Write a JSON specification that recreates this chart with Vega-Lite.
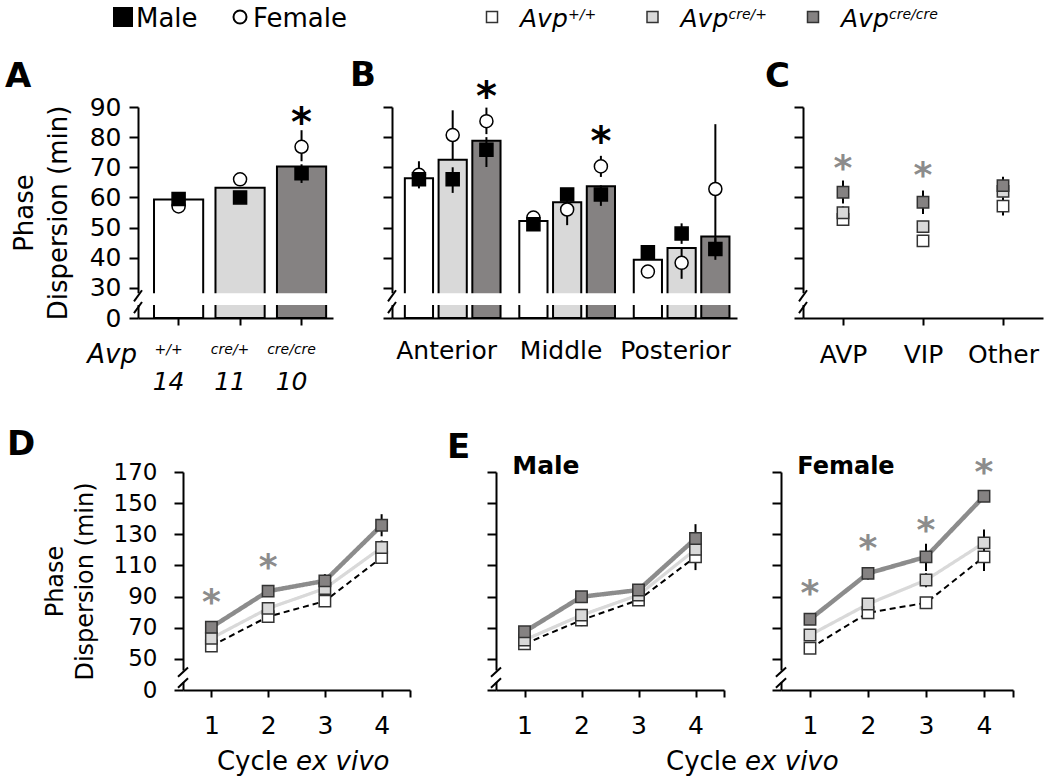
{
"$schema": "https://vega.github.io/schema/vega-lite/v6.json",
"padding": {"left": 5, "top": 0, "right": 5, "bottom": 5},
"config": {
 "font": "DejaVu Sans",
 "view": {"stroke": null},
 "axis": {"domainColor": "black", "domainWidth": 2, "tickColor": "black", "tickWidth": 2, "labelColor": "black", "titleColor": "black", "grid": false, "labelFont": "DejaVu Sans", "titleFont": "DejaVu Sans", "titleFontWeight": "normal", "labelFontSize": 25, "titleFontSize": 26, "labelOverlap": false},
 "text": {"font": "DejaVu Sans", "color": "black"}
},
"datasets": {
 "L_sex": [{"sex": "Male"}, {"sex": "Female"}],
 "L_gen": [{"genotype": "+/+"}, {"genotype": "cre/+"}, {"genotype": "cre/cre"}],
 "A_bars": [{"genotype": "+/+", "value": 59.3}, {"genotype": "cre/+", "value": 63.2}, {"genotype": "cre/cre", "value": 70.3}],
 "A_pts": [
  {"genotype": "+/+", "sex": "Female", "value": 57, "lo": 56, "hi": 58},
  {"genotype": "cre/+", "sex": "Female", "value": 66, "lo": 65, "hi": 67},
  {"genotype": "cre/cre", "sex": "Female", "value": 76.8, "lo": 72, "hi": 82.3},
  {"genotype": "+/+", "sex": "Male", "value": 59.5, "lo": 58, "hi": 61},
  {"genotype": "cre/+", "sex": "Male", "value": 60, "lo": 58.5, "hi": 61.5},
  {"genotype": "cre/cre", "sex": "Male", "value": 68, "lo": 64.8, "hi": 71}
 ],
 "A_n": [{"genotype": "+/+", "n": "14"}, {"genotype": "cre/+", "n": "11"}, {"genotype": "cre/cre", "n": "10"}],
 "A_ast": [{"genotype": "cre/cre", "value": 86.2}],
 "B_bars": [
  {"region": "Anterior", "genotype": "+/+", "value": 66.4},
  {"region": "Anterior", "genotype": "cre/+", "value": 72.5},
  {"region": "Anterior", "genotype": "cre/cre", "value": 78.8},
  {"region": "Middle", "genotype": "+/+", "value": 52.2},
  {"region": "Middle", "genotype": "cre/+", "value": 58.4},
  {"region": "Middle", "genotype": "cre/cre", "value": 63.7},
  {"region": "Posterior", "genotype": "+/+", "value": 39.3},
  {"region": "Posterior", "genotype": "cre/+", "value": 43.2},
  {"region": "Posterior", "genotype": "cre/cre", "value": 47.0}
 ],
 "B_pts": [
  {"region": "Anterior", "genotype": "+/+", "sex": "Female", "value": 67.5, "lo": 64, "hi": 72},
  {"region": "Anterior", "genotype": "cre/+", "sex": "Female", "value": 80.7, "lo": 72.5, "hi": 88.9},
  {"region": "Anterior", "genotype": "cre/cre", "sex": "Female", "value": 85.3, "lo": 81, "hi": 89.8},
  {"region": "Middle", "genotype": "+/+", "sex": "Female", "value": 53.3, "lo": 52, "hi": 54.5},
  {"region": "Middle", "genotype": "cre/+", "sex": "Female", "value": 56, "lo": 50.8, "hi": 61},
  {"region": "Middle", "genotype": "cre/cre", "sex": "Female", "value": 70.3, "lo": 66.8, "hi": 73.8},
  {"region": "Posterior", "genotype": "+/+", "sex": "Female", "value": 35.4, "lo": 34, "hi": 37},
  {"region": "Posterior", "genotype": "cre/+", "sex": "Female", "value": 38.3, "lo": 33, "hi": 43},
  {"region": "Posterior", "genotype": "cre/cre", "sex": "Female", "value": 62.8, "lo": 41.3, "hi": 84.3},
  {"region": "Anterior", "genotype": "+/+", "sex": "Male", "value": 66, "lo": 63, "hi": 68},
  {"region": "Anterior", "genotype": "cre/+", "sex": "Male", "value": 66, "lo": 61.5, "hi": 70},
  {"region": "Anterior", "genotype": "cre/cre", "sex": "Male", "value": 75.8, "lo": 70.1, "hi": 80},
  {"region": "Middle", "genotype": "+/+", "sex": "Male", "value": 51.1, "lo": 50, "hi": 52},
  {"region": "Middle", "genotype": "cre/+", "sex": "Male", "value": 61, "lo": 59, "hi": 63},
  {"region": "Middle", "genotype": "cre/cre", "sex": "Male", "value": 61, "lo": 57.2, "hi": 64},
  {"region": "Posterior", "genotype": "+/+", "sex": "Male", "value": 41.8, "lo": 40, "hi": 43.5},
  {"region": "Posterior", "genotype": "cre/+", "sex": "Male", "value": 48, "lo": 44.6, "hi": 51.4},
  {"region": "Posterior", "genotype": "cre/cre", "sex": "Male", "value": 42.9, "lo": 39.3, "hi": 46.5}
 ],
 "B_ast": [{"region": "Anterior", "genotype": "cre/cre", "value": 94.9}, {"region": "Middle", "genotype": "cre/cre", "value": 80.1}],
 "C_pts": [
  {"cell": "AVP", "genotype": "+/+", "value": 52.7, "lo": 51, "hi": 54.5},
  {"cell": "VIP", "genotype": "+/+", "value": 45.6, "lo": 44, "hi": 47.5},
  {"cell": "Other", "genotype": "+/+", "value": 57.1, "lo": 54, "hi": 60},
  {"cell": "AVP", "genotype": "cre/+", "value": 54.9, "lo": 53, "hi": 57},
  {"cell": "VIP", "genotype": "cre/+", "value": 50.3, "lo": 48.5, "hi": 52},
  {"cell": "Other", "genotype": "cre/+", "value": 62, "lo": 60, "hi": 64},
  {"cell": "AVP", "genotype": "cre/cre", "value": 61.7, "lo": 58, "hi": 65.6},
  {"cell": "VIP", "genotype": "cre/cre", "value": 58.4, "lo": 54.5, "hi": 62.3},
  {"cell": "Other", "genotype": "cre/cre", "value": 63.9, "lo": 61, "hi": 66.9}
 ],
 "C_ast": [{"cell": "AVP", "value": 71.4}, {"cell": "VIP", "value": 69}],
 "D": [
  {"cycle": 1, "genotype": "+/+", "value": 58.3, "lo": 56.5, "hi": 60},
  {"cycle": 2, "genotype": "+/+", "value": 77.1, "lo": 75, "hi": 79},
  {"cycle": 3, "genotype": "+/+", "value": 87.1, "lo": 85, "hi": 89},
  {"cycle": 4, "genotype": "+/+", "value": 115.1, "lo": 112, "hi": 118},
  {"cycle": 1, "genotype": "cre/+", "value": 63.2, "lo": 61, "hi": 65.5},
  {"cycle": 2, "genotype": "cre/+", "value": 82.4, "lo": 80, "hi": 85},
  {"cycle": 3, "genotype": "cre/+", "value": 95.2, "lo": 92, "hi": 98},
  {"cycle": 4, "genotype": "cre/+", "value": 121.5, "lo": 117, "hi": 126},
  {"cycle": 1, "genotype": "cre/cre", "value": 70.3, "lo": 68, "hi": 72.5},
  {"cycle": 2, "genotype": "cre/cre", "value": 93.5, "lo": 91.5, "hi": 95.5},
  {"cycle": 3, "genotype": "cre/cre", "value": 100.1, "lo": 96, "hi": 104.4},
  {"cycle": 4, "genotype": "cre/cre", "value": 135.8, "lo": 128.7, "hi": 142.9}
 ],
 "D_ast": [{"cycle": 1, "value": 89.9}, {"cycle": 2, "value": 112.3}],
 "EM": [
  {"cycle": 1, "genotype": "+/+", "value": 59.6, "lo": 58, "hi": 61.5},
  {"cycle": 2, "genotype": "+/+", "value": 74.9, "lo": 71, "hi": 79},
  {"cycle": 3, "genotype": "+/+", "value": 87.8, "lo": 85, "hi": 91},
  {"cycle": 4, "genotype": "+/+", "value": 115.5, "lo": 107, "hi": 121},
  {"cycle": 1, "genotype": "cre/+", "value": 62.1, "lo": 60, "hi": 64},
  {"cycle": 2, "genotype": "cre/+", "value": 78.1, "lo": 76, "hi": 80.5},
  {"cycle": 3, "genotype": "cre/+", "value": 91, "lo": 89, "hi": 93},
  {"cycle": 4, "genotype": "cre/+", "value": 120.3, "lo": 117, "hi": 124},
  {"cycle": 1, "genotype": "cre/cre", "value": 67.4, "lo": 65, "hi": 69.5},
  {"cycle": 2, "genotype": "cre/cre", "value": 89.9, "lo": 88, "hi": 92},
  {"cycle": 3, "genotype": "cre/cre", "value": 94.2, "lo": 91, "hi": 97.5},
  {"cycle": 4, "genotype": "cre/cre", "value": 127.3, "lo": 118, "hi": 136.5}
 ],
 "EF": [
  {"cycle": 1, "genotype": "+/+", "value": 56.8, "lo": 55, "hi": 58.5},
  {"cycle": 2, "genotype": "+/+", "value": 79.6, "lo": 77, "hi": 82},
  {"cycle": 3, "genotype": "+/+", "value": 86, "lo": 84, "hi": 88},
  {"cycle": 4, "genotype": "+/+", "value": 115.5, "lo": 106.5, "hi": 121},
  {"cycle": 1, "genotype": "cre/+", "value": 65.3, "lo": 63, "hi": 67.5},
  {"cycle": 2, "genotype": "cre/+", "value": 85.2, "lo": 82.5, "hi": 88},
  {"cycle": 3, "genotype": "cre/+", "value": 100.6, "lo": 96, "hi": 105},
  {"cycle": 4, "genotype": "cre/+", "value": 124.5, "lo": 118, "hi": 133},
  {"cycle": 1, "genotype": "cre/cre", "value": 75.4, "lo": 72, "hi": 78},
  {"cycle": 2, "genotype": "cre/cre", "value": 104.9, "lo": 101, "hi": 109},
  {"cycle": 3, "genotype": "cre/cre", "value": 115.5, "lo": 106.5, "hi": 124},
  {"cycle": 4, "genotype": "cre/cre", "value": 154.4, "lo": 152, "hi": 157}
 ],
 "EF_ast": [{"cycle": 1, "value": 95.3}, {"cycle": 2, "value": 124.1}, {"cycle": 3, "value": 135.8}, {"cycle": 4, "value": 173.2}],
 "blank": [{}]
},
"bounds": "flush",
"spacing": 73,
"vconcat": [
 {
  "width": 905, "height": 34,
  "resolve": {"scale": {"x": "independent"}},
  "layer": [
   {"data": {"name": "L_sex"},
    "encoding": {"x": {"field": "sex", "type": "nominal", "scale": {"type": "point", "domain": ["Male", "Female"], "range": [-15, 102], "padding": 0}, "axis": null}},
    "layer": [
     {"mark": {"type": "point", "filled": true, "stroke": "black", "strokeWidth": 2, "opacity": 1},
      "encoding": {
       "shape": {"field": "sex", "type": "nominal", "scale": {"domain": ["Male", "Female"], "range": ["square", "circle"]}, "legend": null},
       "fill": {"field": "sex", "type": "nominal", "scale": {"domain": ["+/+", "cre/+", "cre/cre", "Male", "Female"], "range": ["#ffffff", "#d9d9d9", "#858282", "#000000", "#ffffff"]}, "legend": null},
       "size": {"field": "sex", "type": "ordinal", "scale": {"domain": ["Male", "Female"], "range": [324, 169]}, "legend": null}}},
     {"mark": {"type": "text", "align": "left", "baseline": "alphabetic", "dx": 13, "dy": 10, "fontSize": 26},
      "encoding": {"text": {"field": "sex"}}}
    ]},
   {"data": {"name": "L_gen"},
    "encoding": {"x": {"field": "genotype", "type": "nominal", "scale": {"type": "point", "domain": ["+/+", "cre/+", "cre/cre"], "range": [354, 675], "padding": 0}, "axis": null}},
    "layer": [
     {"mark": {"type": "point", "shape": "square", "filled": true, "stroke": "#333333", "strokeWidth": 1.5, "opacity": 1, "size": 121},
      "encoding": {"fill": {"field": "genotype", "type": "nominal", "scale": {"domain": ["+/+", "cre/+", "cre/cre", "Male", "Female"], "range": ["#ffffff", "#d9d9d9", "#858282", "#000000", "#ffffff"]}, "legend": null}}},
     {"mark": {"type": "text", "text": "Avp", "fontStyle": "italic", "align": "left", "baseline": "alphabetic", "dx": 28, "dy": 10, "fontSize": 25},
      "encoding": {}},
     {"mark": {"type": "text", "fontStyle": "italic", "align": "left", "baseline": "alphabetic", "dx": 76, "dy": 2, "fontSize": 14},
      "encoding": {"text": {"field": "genotype"}}}
    ]}
  ]
 },
 {
  "bounds": "flush",
  "spacing": 365,
  "vconcat": [
   {
    "bounds": "flush",
    "spacing": 59,
    "hconcat": [
     {
      "width": 195, "height": 211,
      "resolve": {"scale": {"x": "independent"}},
      "layer": [
       {
        "encoding": {"x": {"field": "genotype", "type": "nominal", "scale": {"domain": ["+/+", "cre/+", "cre/cre"], "paddingInner": 0.2, "paddingOuter": 0.186, "align": 0.7},
          "axis": {"title": null, "labelFontStyle": "italic", "labelFontSize": 14, "labelOffset": -10, "tickSize": 7, "labelPadding": 17, "labelAngle": 0}}},
        "layer": [
         {"data": {"name": "A_bars"}, "mark": {"type": "bar", "stroke": "black", "strokeWidth": 2},
          "encoding": {
           "y": {"field": "value", "type": "quantitative", "scale": {"domain": [20, 90], "nice": false, "zero": false},
            "axis": {"values": [20, 30, 40, 50, 60, 70, 80, 90], "tickCount": 20, "labelOverlap": false, "labelExpr": "datum.value == 20 ? '0' : datum.label", "tickSize": 9, "labelPadding": 8, "labelFontSize": 25, "title": ["Phase", "Dispersion (min)"], "titleFontSize": 26, "titleLineHeight": 34, "titlePadding": 18}},
           "y2": {"datum": 20},
           "fill": {"field": "genotype", "type": "nominal", "scale": {"domain": ["+/+", "cre/+", "cre/cre", "Male", "Female"], "range": ["#ffffff", "#d9d9d9", "#858282", "#000000", "#ffffff"]}, "legend": null}}},
         {"data": {"name": "A_pts"}, "mark": {"type": "rule", "color": "black", "strokeWidth": 2},
          "encoding": {"y": {"field": "lo", "type": "quantitative"}, "y2": {"field": "hi"}}},
         {"data": {"name": "A_pts"}, "mark": {"type": "point", "filled": true, "stroke": "black", "strokeWidth": 1.5, "opacity": 1, "size": 170},
          "encoding": {
           "y": {"field": "value", "type": "quantitative"},
           "shape": {"field": "sex", "type": "nominal", "scale": {"domain": ["Male", "Female"], "range": ["square", "circle"]}, "legend": null},
           "fill": {"field": "sex", "type": "nominal", "scale": {"domain": ["+/+", "cre/+", "cre/cre", "Male", "Female"], "range": ["#ffffff", "#d9d9d9", "#858282", "#000000", "#ffffff"]}, "legend": null}}},
         {"data": {"name": "A_ast"}, "mark": {"type": "text", "text": "*", "fontSize": 40, "fontWeight": "bold", "baseline": "alphabetic", "dy": 18},
          "encoding": {"y": {"field": "value", "type": "quantitative"}}},
         {"data": {"name": "A_n"}, "mark": {"type": "text", "fontStyle": "italic", "fontSize": 25, "baseline": "alphabetic", "dx": -10},
          "encoding": {"y": {"datum": -3.85, "type": "quantitative"}, "text": {"field": "n"}}}
        ]
       },
       {
        "data": {"name": "blank"},
        "layer": [
         {"mark": {"type": "rect", "fill": "white", "stroke": "white", "strokeWidth": 3},
          "encoding": {"y": {"datum": 27.7, "type": "quantitative"}, "y2": {"datum": 24.8}}},
         {"mark": {"type": "rule", "color": "black", "strokeWidth": 2},
          "encoding": {"x": {"datum": -0.0205, "type": "quantitative", "scale": {"domain": [0, 1]}, "axis": null}, "x2": {"datum": 0.0205}, "y": {"datum": 25.5, "type": "quantitative"}, "y2": {"datum": 29.2}}},
         {"mark": {"type": "rule", "color": "black", "strokeWidth": 2},
          "encoding": {"x": {"datum": -0.0205, "type": "quantitative"}, "x2": {"datum": 0.0205}, "y": {"datum": 21.6, "type": "quantitative"}, "y2": {"datum": 25.3}}},
         {"mark": {"type": "text", "text": "Avp", "fontStyle": "italic", "fontSize": 26, "baseline": "alphabetic", "align": "right", "dx": -1},
          "encoding": {"x": {"datum": 0, "type": "quantitative"}, "y": {"datum": 5, "type": "quantitative"}}},
         {"mark": {"type": "text", "text": "A", "fontSize": 34, "fontWeight": "bold", "baseline": "alphabetic", "align": "left"},
          "encoding": {"x": {"datum": -0.682, "type": "quantitative"}, "y": {"datum": 96.6, "type": "quantitative"}}}
        ]
       }
      ]
     },
     {
      "bounds": "flush",
      "spacing": 66,
      "hconcat": [
       {
        "width": 345, "height": 211,
        "resolve": {"scale": {"x": "independent"}},
        "layer": [
         {
          "encoding": {
           "x": {"field": "region", "type": "nominal", "scale": {"domain": ["Anterior", "Middle", "Posterior"], "paddingInner": 0.164, "paddingOuter": 0.089, "align": 0.63},
            "axis": {"title": null, "ticks": false, "tickSize": 0, "labelPadding": 20, "labelOffset": -6, "labelFontSize": 25, "labelAngle": 0}},
           "xOffset": {"field": "genotype", "type": "nominal", "scale": {"domain": ["+/+", "cre/+", "cre/cre"], "paddingInner": 0.164, "paddingOuter": 0}}},
          "layer": [
           {"data": {"name": "B_bars"}, "mark": {"type": "bar", "stroke": "black", "strokeWidth": 2},
            "encoding": {
             "y": {"field": "value", "type": "quantitative", "scale": {"domain": [20, 90], "nice": false, "zero": false},
              "axis": {"values": [20, 30, 40, 50, 60, 70, 80, 90], "tickCount": 20, "labelOverlap": false, "labels": false, "tickSize": 9, "title": null}},
             "y2": {"datum": 20},
             "fill": {"field": "genotype", "type": "nominal", "scale": {"domain": ["+/+", "cre/+", "cre/cre", "Male", "Female"], "range": ["#ffffff", "#d9d9d9", "#858282", "#000000", "#ffffff"]}, "legend": null}}},
           {"data": {"name": "B_pts"}, "mark": {"type": "rule", "color": "black", "strokeWidth": 2},
            "encoding": {"y": {"field": "lo", "type": "quantitative"}, "y2": {"field": "hi"}}},
           {"data": {"name": "B_pts"}, "mark": {"type": "point", "filled": true, "stroke": "black", "strokeWidth": 1.5, "opacity": 1, "size": 170},
            "encoding": {
             "y": {"field": "value", "type": "quantitative"},
             "shape": {"field": "sex", "type": "nominal", "scale": {"domain": ["Male", "Female"], "range": ["square", "circle"]}, "legend": null},
             "fill": {"field": "sex", "type": "nominal", "scale": {"domain": ["+/+", "cre/+", "cre/cre", "Male", "Female"], "range": ["#ffffff", "#d9d9d9", "#858282", "#000000", "#ffffff"]}, "legend": null}}},
           {"data": {"name": "B_ast"}, "mark": {"type": "text", "text": "*", "fontSize": 40, "fontWeight": "bold", "baseline": "alphabetic", "dy": 18},
            "encoding": {"y": {"field": "value", "type": "quantitative"}}}
          ]
         },
         {
          "data": {"name": "blank"},
          "layer": [
           {"mark": {"type": "rect", "fill": "white", "stroke": "white", "strokeWidth": 3},
            "encoding": {"y": {"datum": 27.7, "type": "quantitative"}, "y2": {"datum": 24.8}}},
           {"mark": {"type": "rule", "color": "black", "strokeWidth": 2},
            "encoding": {"x": {"datum": -0.0116, "type": "quantitative", "scale": {"domain": [0, 1]}, "axis": null}, "x2": {"datum": 0.0116}, "y": {"datum": 25.5, "type": "quantitative"}, "y2": {"datum": 29.2}}},
           {"mark": {"type": "rule", "color": "black", "strokeWidth": 2},
            "encoding": {"x": {"datum": -0.0116, "type": "quantitative"}, "x2": {"datum": 0.0116}, "y": {"datum": 21.6, "type": "quantitative"}, "y2": {"datum": 25.3}}},
           {"mark": {"type": "text", "text": "B", "fontSize": 34, "fontWeight": "bold", "baseline": "alphabetic", "align": "left"},
            "encoding": {"x": {"datum": -0.122, "type": "quantitative"}, "y": {"datum": 97.1, "type": "quantitative"}}}
          ]
         }
        ]
       },
       {
        "width": 240, "height": 211,
        "resolve": {"scale": {"x": "independent"}},
        "layer": [
         {
          "encoding": {"x": {"field": "cell", "type": "nominal", "scale": {"type": "point", "domain": ["AVP", "VIP", "Other"], "padding": 0.5},
            "axis": {"title": null, "tickSize": 7, "labelPadding": 17, "labelFontSize": 25, "labelAngle": 0}}},
          "layer": [
           {"data": {"name": "C_pts"}, "mark": {"type": "rule", "color": "black", "strokeWidth": 2},
            "encoding": {"y": {"field": "lo", "type": "quantitative", "scale": {"domain": [20, 90], "nice": false, "zero": false},
              "axis": {"values": [20, 30, 40, 50, 60, 70, 80, 90], "tickCount": 20, "labelOverlap": false, "labels": false, "tickSize": 9, "title": null}}, "y2": {"field": "hi"}}},
           {"data": {"name": "C_pts"}, "mark": {"type": "point", "shape": "square", "filled": true, "stroke": "#333333", "strokeWidth": 1.5, "opacity": 1, "size": 130},
            "encoding": {"y": {"field": "value", "type": "quantitative"},
             "fill": {"field": "genotype", "type": "nominal", "scale": {"domain": ["+/+", "cre/+", "cre/cre", "Male", "Female"], "range": ["#ffffff", "#d9d9d9", "#858282", "#000000", "#ffffff"]}, "legend": null}}},
           {"data": {"name": "C_ast"}, "mark": {"type": "text", "text": "*", "fontSize": 36, "fontWeight": "bold", "color": "#8c8c8c", "baseline": "alphabetic", "dy": 17},
            "encoding": {"y": {"field": "value", "type": "quantitative"}}}
          ]
         },
         {
          "data": {"name": "blank"},
          "layer": [
           {"mark": {"type": "rect", "fill": "white", "stroke": "white", "strokeWidth": 3},
            "encoding": {"y": {"datum": 27.7, "type": "quantitative"}, "y2": {"datum": 24.8}}},
           {"mark": {"type": "rule", "color": "black", "strokeWidth": 2},
            "encoding": {"x": {"datum": -0.0167, "type": "quantitative", "scale": {"domain": [0, 1]}, "axis": null}, "x2": {"datum": 0.0167}, "y": {"datum": 25.5, "type": "quantitative"}, "y2": {"datum": 29.2}}},
           {"mark": {"type": "rule", "color": "black", "strokeWidth": 2},
            "encoding": {"x": {"datum": -0.0167, "type": "quantitative"}, "x2": {"datum": 0.0167}, "y": {"datum": 21.6, "type": "quantitative"}, "y2": {"datum": 25.3}}},
           {"mark": {"type": "text", "text": "C", "fontSize": 34, "fontWeight": "bold", "baseline": "alphabetic", "align": "left"},
            "encoding": {"x": {"datum": -0.158, "type": "quantitative"}, "y": {"datum": 96.5, "type": "quantitative"}}}
          ]
         }
        ]
       }
      ]
     }
    ]
   },
   {
    "bounds": "flush",
    "spacing": 44,
    "hconcat": [
     {"width": 1, "height": 1, "data": {"name": "blank"}, "mark": {"type": "point", "opacity": 0}, "encoding": {}},
     {
      "bounds": "flush",
      "spacing": 86,
      "hconcat": [
       {
        "width": 227, "height": 218,
        "layer": [
         {
          "encoding": {"x": {"field": "cycle", "type": "quantitative", "scale": {"domain": [0.5, 4.5], "nice": false, "zero": false},
            "axis": {"values": [1, 2, 3, 4, 4.5], "tickCount": 20, "format": "d", "labelExpr": "datum.value == 4.5 ? '' : datum.label", "title": null, "tickSize": 7, "labelPadding": 16, "labelFontSize": 25}}},
          "layer": [
           {"data": {"name": "D"}, "mark": {"type": "line"},
            "encoding": {
             "y": {"field": "value", "type": "quantitative", "scale": {"domain": [30, 170], "nice": false, "zero": false},
              "axis": {"values": [30, 50, 70, 90, 110, 130, 150, 170], "tickCount": 20, "labelOverlap": false, "labelExpr": "datum.value == 30 ? '0' : datum.label", "tickSize": 9, "labelPadding": 17, "labelFontSize": 23, "title": ["Phase", "Dispersion (min)"], "titleFontSize": 24, "titleLineHeight": 30, "titlePadding": 16}},
             "color": {"field": "genotype", "type": "nominal", "scale": {"domain": ["+/+", "cre/+", "cre/cre"], "range": ["#000000", "#d9d9d9", "#8c8c8c"]}, "legend": null},
             "strokeDash": {"field": "genotype", "type": "nominal", "scale": {"domain": ["+/+", "cre/+", "cre/cre"], "range": [[6, 4], [1, 0], [1, 0]]}, "legend": null},
             "strokeWidth": {"field": "genotype", "type": "ordinal", "scale": {"domain": ["+/+", "cre/+", "cre/cre"], "range": [2, 4.5, 4.5]}, "legend": null}}},
           {"data": {"name": "D"}, "mark": {"type": "rule", "color": "black", "strokeWidth": 2},
            "encoding": {"y": {"field": "lo", "type": "quantitative"}, "y2": {"field": "hi"}}},
           {"data": {"name": "D"}, "mark": {"type": "point", "shape": "square", "filled": true, "stroke": "#333333", "strokeWidth": 1.5, "opacity": 1, "size": 130},
            "encoding": {"y": {"field": "value", "type": "quantitative"},
             "fill": {"field": "genotype", "type": "nominal", "scale": {"domain": ["+/+", "cre/+", "cre/cre", "Male", "Female"], "range": ["#ffffff", "#d9d9d9", "#858282", "#000000", "#ffffff"]}, "legend": null}}},
           {"data": {"name": "D_ast"}, "mark": {"type": "text", "text": "*", "fontSize": 36, "fontWeight": "bold", "color": "#8c8c8c", "baseline": "alphabetic", "dy": 17},
            "encoding": {"y": {"field": "value", "type": "quantitative"}}}
          ]
         },
         {
          "data": {"name": "blank"},
          "layer": [
           {"mark": {"type": "rect", "fill": "white", "stroke": "white", "strokeWidth": 3},
            "encoding": {"y": {"datum": 41.5, "type": "quantitative"}, "y2": {"datum": 36}}},
           {"mark": {"type": "rule", "color": "black", "strokeWidth": 2},
            "encoding": {"x": {"datum": 0.412, "type": "quantitative"}, "x2": {"datum": 0.588}, "y": {"datum": 38.5, "type": "quantitative"}, "y2": {"datum": 44.5}}},
           {"mark": {"type": "rule", "color": "black", "strokeWidth": 2},
            "encoding": {"x": {"datum": 0.412, "type": "quantitative"}, "x2": {"datum": 0.588}, "y": {"datum": 31.5, "type": "quantitative"}, "y2": {"datum": 37.5}}},
           {"mark": {"type": "text", "text": "Cycle", "fontSize": 26, "baseline": "middle", "align": "right", "dx": -4},
            "encoding": {"x": {"datum": 2.42, "type": "quantitative"}, "y": {"datum": -16, "type": "quantitative"}}},
           {"mark": {"type": "text", "text": "ex vivo", "fontStyle": "italic", "fontSize": 26, "baseline": "middle", "align": "left", "dx": 4},
            "encoding": {"x": {"datum": 2.42, "type": "quantitative"}, "y": {"datum": -16, "type": "quantitative"}}},
           {"mark": {"type": "text", "text": "D", "fontSize": 34, "fontWeight": "bold", "baseline": "alphabetic", "align": "left"},
            "encoding": {"x": {"datum": -2.6, "type": "quantitative"}, "y": {"datum": 180.7, "type": "quantitative"}}}
          ]
         }
        ]
       },
       {
        "bounds": "flush",
        "spacing": 57,
        "hconcat": [
         {
          "width": 228, "height": 218,
          "layer": [
           {
            "encoding": {"x": {"field": "cycle", "type": "quantitative", "scale": {"domain": [0.5, 4.5], "nice": false, "zero": false},
              "axis": {"values": [1, 2, 3, 4, 4.5], "tickCount": 20, "format": "d", "labelExpr": "datum.value == 4.5 ? '' : datum.label", "title": null, "tickSize": 7, "labelPadding": 16, "labelFontSize": 25}}},
            "layer": [
             {"data": {"name": "EM"}, "mark": {"type": "line"},
              "encoding": {
               "y": {"field": "value", "type": "quantitative", "scale": {"domain": [30, 170], "nice": false, "zero": false},
                "axis": {"values": [30, 50, 70, 90, 110, 130, 150, 170], "tickCount": 20, "labelOverlap": false, "labels": false, "tickSize": 9, "title": null}},
               "color": {"field": "genotype", "type": "nominal", "scale": {"domain": ["+/+", "cre/+", "cre/cre"], "range": ["#000000", "#d9d9d9", "#8c8c8c"]}, "legend": null},
               "strokeDash": {"field": "genotype", "type": "nominal", "scale": {"domain": ["+/+", "cre/+", "cre/cre"], "range": [[6, 4], [1, 0], [1, 0]]}, "legend": null},
               "strokeWidth": {"field": "genotype", "type": "ordinal", "scale": {"domain": ["+/+", "cre/+", "cre/cre"], "range": [2, 4.5, 4.5]}, "legend": null}}},
             {"data": {"name": "EM"}, "mark": {"type": "rule", "color": "black", "strokeWidth": 2},
              "encoding": {"y": {"field": "lo", "type": "quantitative"}, "y2": {"field": "hi"}}},
             {"data": {"name": "EM"}, "mark": {"type": "point", "shape": "square", "filled": true, "stroke": "#333333", "strokeWidth": 1.5, "opacity": 1, "size": 130},
              "encoding": {"y": {"field": "value", "type": "quantitative"},
               "fill": {"field": "genotype", "type": "nominal", "scale": {"domain": ["+/+", "cre/+", "cre/cre", "Male", "Female"], "range": ["#ffffff", "#d9d9d9", "#858282", "#000000", "#ffffff"]}, "legend": null}}}
            ]
           },
           {
            "data": {"name": "blank"},
            "layer": [
             {"mark": {"type": "rect", "fill": "white", "stroke": "white", "strokeWidth": 3},
              "encoding": {"y": {"datum": 41.5, "type": "quantitative"}, "y2": {"datum": 36}}},
             {"mark": {"type": "rule", "color": "black", "strokeWidth": 2},
              "encoding": {"x": {"datum": 0.412, "type": "quantitative"}, "x2": {"datum": 0.588}, "y": {"datum": 38.5, "type": "quantitative"}, "y2": {"datum": 44.5}}},
             {"mark": {"type": "rule", "color": "black", "strokeWidth": 2},
              "encoding": {"x": {"datum": 0.412, "type": "quantitative"}, "x2": {"datum": 0.588}, "y": {"datum": 31.5, "type": "quantitative"}, "y2": {"datum": 37.5}}},
             {"mark": {"type": "text", "text": "Male", "fontSize": 25, "fontWeight": "bold", "baseline": "alphabetic", "align": "left"},
              "encoding": {"x": {"datum": 0.786, "type": "quantitative"}, "y": {"datum": 169, "type": "quantitative"}}},
             {"mark": {"type": "text", "text": "E", "fontSize": 34, "fontWeight": "bold", "baseline": "alphabetic", "align": "left"},
              "encoding": {"x": {"datum": -0.36, "type": "quantitative"}, "y": {"datum": 178.8, "type": "quantitative"}}},
             {"mark": {"type": "text", "text": "Cycle", "fontSize": 26, "baseline": "middle", "align": "right", "dx": -4},
              "encoding": {"x": {"datum": 4.8, "type": "quantitative"}, "y": {"datum": -16, "type": "quantitative"}}},
             {"mark": {"type": "text", "text": "ex vivo", "fontStyle": "italic", "fontSize": 26, "baseline": "middle", "align": "left", "dx": 4},
              "encoding": {"x": {"datum": 4.8, "type": "quantitative"}, "y": {"datum": -16, "type": "quantitative"}}}
            ]
           }
          ]
         },
         {
          "width": 232, "height": 218,
          "layer": [
           {
            "encoding": {"x": {"field": "cycle", "type": "quantitative", "scale": {"domain": [0.5, 4.5], "nice": false, "zero": false},
              "axis": {"values": [1, 2, 3, 4, 4.5], "tickCount": 20, "format": "d", "labelExpr": "datum.value == 4.5 ? '' : datum.label", "title": null, "tickSize": 7, "labelPadding": 16, "labelFontSize": 25}}},
            "layer": [
             {"data": {"name": "EF"}, "mark": {"type": "line"},
              "encoding": {
               "y": {"field": "value", "type": "quantitative", "scale": {"domain": [30, 170], "nice": false, "zero": false},
                "axis": {"values": [30, 50, 70, 90, 110, 130, 150, 170], "tickCount": 20, "labelOverlap": false, "labels": false, "tickSize": 9, "title": null}},
               "color": {"field": "genotype", "type": "nominal", "scale": {"domain": ["+/+", "cre/+", "cre/cre"], "range": ["#000000", "#d9d9d9", "#8c8c8c"]}, "legend": null},
               "strokeDash": {"field": "genotype", "type": "nominal", "scale": {"domain": ["+/+", "cre/+", "cre/cre"], "range": [[6, 4], [1, 0], [1, 0]]}, "legend": null},
               "strokeWidth": {"field": "genotype", "type": "ordinal", "scale": {"domain": ["+/+", "cre/+", "cre/cre"], "range": [2, 4.5, 4.5]}, "legend": null}}},
             {"data": {"name": "EF"}, "mark": {"type": "rule", "color": "black", "strokeWidth": 2},
              "encoding": {"y": {"field": "lo", "type": "quantitative"}, "y2": {"field": "hi"}}},
             {"data": {"name": "EF"}, "mark": {"type": "point", "shape": "square", "filled": true, "stroke": "#333333", "strokeWidth": 1.5, "opacity": 1, "size": 130},
              "encoding": {"y": {"field": "value", "type": "quantitative"},
               "fill": {"field": "genotype", "type": "nominal", "scale": {"domain": ["+/+", "cre/+", "cre/cre", "Male", "Female"], "range": ["#ffffff", "#d9d9d9", "#858282", "#000000", "#ffffff"]}, "legend": null}}},
             {"data": {"name": "EF_ast"}, "mark": {"type": "text", "text": "*", "fontSize": 36, "fontWeight": "bold", "color": "#8c8c8c", "baseline": "alphabetic", "dy": 17},
              "encoding": {"y": {"field": "value", "type": "quantitative"}}}
            ]
           },
           {
            "data": {"name": "blank"},
            "layer": [
             {"mark": {"type": "rect", "fill": "white", "stroke": "white", "strokeWidth": 3},
              "encoding": {"y": {"datum": 41.5, "type": "quantitative"}, "y2": {"datum": 36}}},
             {"mark": {"type": "rule", "color": "black", "strokeWidth": 2},
              "encoding": {"x": {"datum": 0.412, "type": "quantitative"}, "x2": {"datum": 0.588}, "y": {"datum": 38.5, "type": "quantitative"}, "y2": {"datum": 44.5}}},
             {"mark": {"type": "rule", "color": "black", "strokeWidth": 2},
              "encoding": {"x": {"datum": 0.412, "type": "quantitative"}, "x2": {"datum": 0.588}, "y": {"datum": 31.5, "type": "quantitative"}, "y2": {"datum": 37.5}}},
             {"mark": {"type": "text", "text": "Female", "fontSize": 24, "fontWeight": "bold", "baseline": "alphabetic", "align": "left"},
              "encoding": {"x": {"datum": 0.78, "type": "quantitative"}, "y": {"datum": 169, "type": "quantitative"}}}
            ]
           }
          ]
         }
        ]
       }
      ]
     }
    ]
   }
  ]
 }
]
}
